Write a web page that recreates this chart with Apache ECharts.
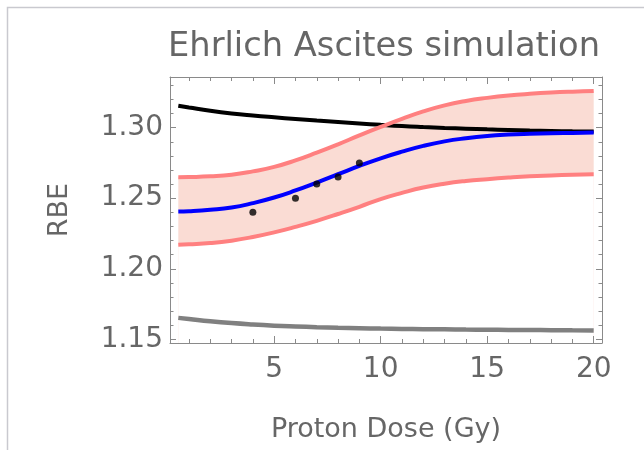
<!DOCTYPE html>
<html>
<head>
<meta charset="utf-8">
<script src="https://cdn.jsdelivr.net/npm/echarts@6/dist/echarts.min.js"></script>
<style>
  html, body { margin: 0; padding: 0; background: #fff; }
  #main { width: 644px; height: 450px; }
</style>
</head>
<body>
<div id="main"></div>
<script>
// dose grid (Gy) and curves
var dose = [0.5, 1, 2, 3, 4, 5, 6, 7, 8, 9, 10, 11, 12, 13, 14, 15, 16, 17, 18, 19, 20];
var rbeFit = [1.2406, 1.2408, 1.2418, 1.2434, 1.2465, 1.2505, 1.2555, 1.2611, 1.2670, 1.2729, 1.2783, 1.2830, 1.2871, 1.2903, 1.2925, 1.2941, 1.2951, 1.2957, 1.2961, 1.2963, 1.2965];
var rbeUpper = [1.2649, 1.2650, 1.2655, 1.2666, 1.2690, 1.2722, 1.2768, 1.2823, 1.2882, 1.2945, 1.3005, 1.3062, 1.3115, 1.3158, 1.3189, 1.3211, 1.3228, 1.3240, 1.3249, 1.3255, 1.3259];
var rbeLower = [1.2170, 1.2173, 1.2182, 1.2199, 1.2225, 1.2258, 1.2297, 1.2340, 1.2388, 1.2439, 1.2494, 1.2538, 1.2576, 1.2603, 1.2622, 1.2635, 1.2646, 1.2655, 1.2661, 1.2666, 1.2670];
var rbeBlack = [1.3155, 1.3143, 1.3120, 1.3101, 1.3086, 1.3073, 1.3061, 1.3050, 1.3040, 1.3030, 1.3020, 1.3011, 1.3004, 1.2998, 1.2993, 1.2988, 1.2984, 1.2980, 1.2977, 1.2974, 1.2972];
var rbeGray = [1.1652, 1.1644, 1.1628, 1.1615, 1.1605, 1.1597, 1.1591, 1.1586, 1.1582, 1.1579, 1.1576, 1.1574, 1.1572, 1.1571, 1.1569, 1.1568, 1.1567, 1.1566, 1.1565, 1.1564, 1.1563];

// measured points
var pointDose = [4, 6, 7, 8, 9];
var pointRbe = [1.24, 1.25, 1.26, 1.265, 1.275];

// ticks
var xMajor = [5, 10, 15, 20];
var xMinor = [1, 2, 3, 4, 5, 6, 7, 8, 9, 10, 11, 12, 13, 14, 15, 16, 17, 18, 19, 20];
var yMajor = [1.15, 1.20, 1.25, 1.30];
var yMinor = [1.15, 1.16, 1.17, 1.18, 1.19, 1.20, 1.21, 1.22, 1.23, 1.24, 1.25, 1.26, 1.27, 1.28, 1.29, 1.30, 1.31, 1.32, 1.33];

var chart = echarts.init(document.getElementById('main'));

var frameCol = '#8a8a8a';
var textCol = '#666666';
var font = 'DejaVu Sans';

function pairs(xs, ys) {
  return xs.map(function (x, i) { return [x, ys[i]]; });
}

function xAx(pos, ticks, len, line, labels) {
  return {
    type: 'value', position: pos, min: 0.11, max: 20.39, z: 10,
    axisLine: { show: line, lineStyle: { color: frameCol, width: 1 } },
    axisTick: { show: true, inside: true, length: len, customValues: ticks, lineStyle: { color: frameCol } },
    axisLabel: labels ? {
      show: true, customValues: xMajor, margin: 13,
      color: textCol, fontSize: 28, fontFamily: font
    } : { show: false },
    splitLine: { show: false }
  };
}

function yAx(pos, ticks, len, line, labels) {
  return {
    type: 'value', position: pos, min: 1.1474, max: 1.3359, z: 10,
    axisLine: { show: line, lineStyle: { color: frameCol, width: 1 } },
    axisTick: { show: true, inside: true, length: len, customValues: ticks, lineStyle: { color: frameCol } },
    axisLabel: labels ? {
      show: true, customValues: yMajor, margin: 7,
      color: textCol, fontSize: 28, fontFamily: font,
      formatter: function (v) { return v.toFixed(2); }
    } : { show: false },
    splitLine: { show: false }
  };
}

var xMain = xAx('bottom', xMajor, 7, true, true);
xMain.name = 'Proton Dose (Gy)';
xMain.nameLocation = 'middle';
xMain.nameGap = 73;
xMain.nameTextStyle = { color: textCol, fontSize: 27, fontFamily: font };

var yMain = yAx('left', yMajor, 6, true, true);
yMain.name = 'RBE';
yMain.nameLocation = 'middle';
yMain.nameGap = 97;
yMain.nameTextStyle = { color: textCol, fontSize: 27, fontFamily: font };

function curve(name, ys, color, width, z) {
  return {
    name: name, type: 'line', smooth: true, symbol: 'none',
    data: pairs(dose, ys), lineStyle: { color: color, width: width }, z: z
  };
}

var option = {
  animation: false,
  backgroundColor: '#ffffff',
  title: {
    text: 'Ehrlich Ascites simulation',
    left: 163, top: 25,
    textStyle: { color: textCol, fontSize: 33.7, fontWeight: 'normal', fontFamily: font }
  },
  grid: { left: 170, right: 42, top: 77, bottom: 107, outerBoundsMode: 'none' },
  xAxis: [
    xMain,
    xAx('bottom', xMinor, 4, false, false),
    xAx('top', xMajor, 7, true, false),
    xAx('top', xMinor, 4, false, false)
  ],
  yAxis: [
    yMain,
    yAx('left', yMinor, 3.5, false, false),
    yAx('right', yMajor, 6, true, false),
    yAx('right', yMinor, 3.5, false, false)
  ],
  graphic: [{
    type: 'polyline',
    shape: { points: [[7.5, 450], [7.5, 7.5], [644, 7.5]] },
    style: { stroke: '#c9c9cf', lineWidth: 1.5, fill: null },
    silent: true
  }],
  series: [
    // band: pink under the upper curve, white under the lower curve
    {
      name: 'band top', type: 'line', smooth: true, symbol: 'none',
      data: pairs(dose, rbeUpper), lineStyle: { width: 0, opacity: 0 },
      areaStyle: { color: '#fadcd4', opacity: 1, origin: 'start' }, z: 1
    },
    {
      name: 'band bottom', type: 'line', smooth: true, symbol: 'none',
      data: pairs(dose, rbeLower), lineStyle: { width: 0, opacity: 0 },
      areaStyle: { color: '#ffffff', opacity: 1, origin: 'start' }, z: 1
    },
    curve('black', rbeBlack, '#000000', 4, 2),
    curve('gray', rbeGray, '#808080', 4.5, 2),
    curve('upper', rbeUpper, '#ff8080', 4, 3),
    curve('lower', rbeLower, '#ff8080', 4, 3),
    curve('fit', rbeFit, '#0000ff', 4, 4),
    {
      name: 'measured', type: 'scatter', symbolSize: 7,
      data: pairs(pointDose, pointRbe), itemStyle: { color: '#000000' }, z: 5
    }
  ]
};

chart.setOption(option);
</script>
</body>
</html>
